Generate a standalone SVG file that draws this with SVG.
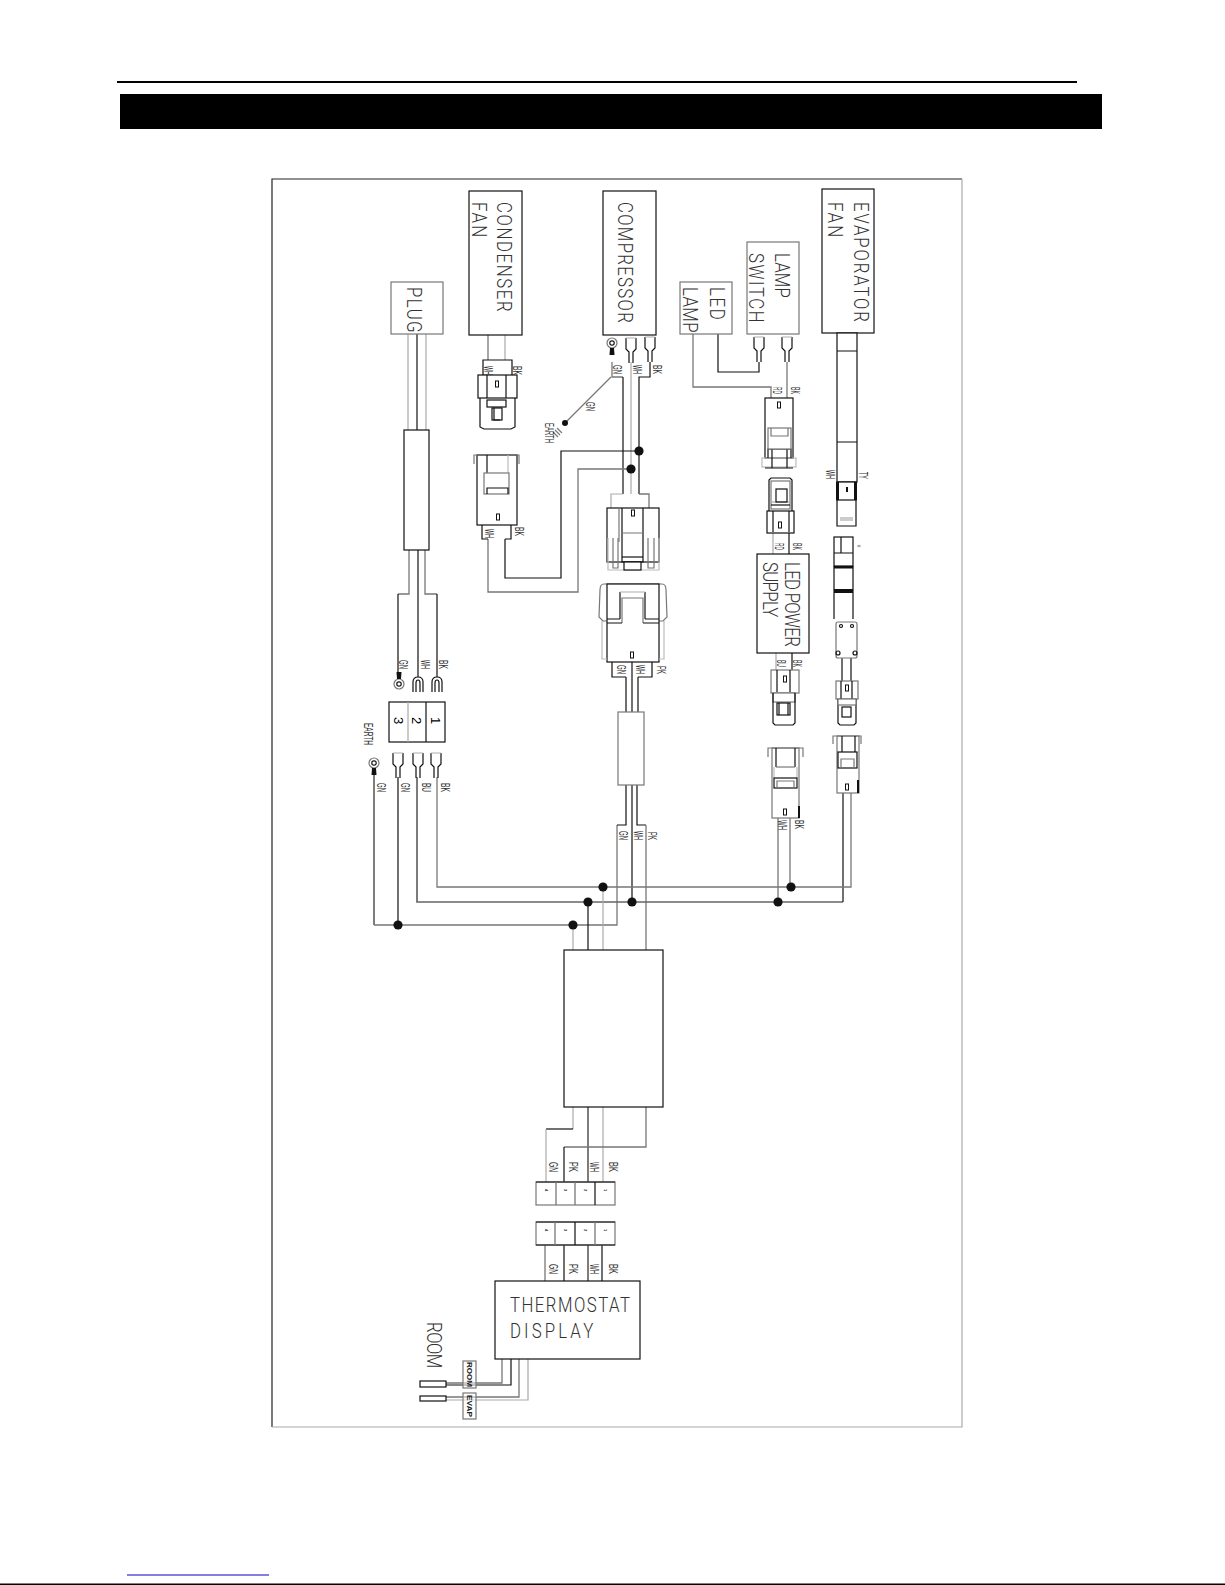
<svg xmlns="http://www.w3.org/2000/svg" width="1225" height="1585" viewBox="0 0 1225 1585">
<style>
text{font-family:"Liberation Sans",Arial,sans-serif;fill:#000}
.b{fill:#fff;stroke:#111;stroke-width:1.2}
.bg{fill:#fff;stroke:#777;stroke-width:1.2}
.o{fill:none;stroke:#111;stroke-width:1.2}
.og{fill:none;stroke:#777;stroke-width:1.2}
.ol{fill:none;stroke:#bbb;stroke-width:1.2}
.k{fill:#111;stroke:none}
.w{fill:none;stroke:#111;stroke-width:1.2}
.wg{fill:none;stroke:#777;stroke-width:1.3}
.wl{fill:none;stroke:#aaa;stroke-width:1.2}
.wt{fill:none;stroke:#666;stroke-width:1.7}
.t{font-family:"Roboto","Liberation Sans",sans-serif;font-weight:300;font-size:21px;fill:#333}
.s{font-size:12px;fill:#333}
.n{font-size:4px;font-weight:bold;fill:#222}
.tag{font-size:7px;font-weight:bold;fill:#222}
</style>
<defs>
<g id="spade"><path class="o" d="M-5 0V11L-2 14V25M5 0V11L2 14V25"/><path class="ol" d="M-5 0H5"/></g>
<g id="fork"><path class="o" d="M-5 15V5Q-5 0 0 0Q5 0 5 5V15M-2 15V6Q-2 3 0 3Q2 3 2 6V15"/><path class="w" d="M0 0V-5"/></g>
<g id="ring"><circle r="5" class="og"/><circle r="2.2" class="o"/><path class="k" d="M-2 5H2L2.5 12H-2.5Z"/></g>
<circle id="dot" r="4.6" class="k"/>
<rect id="tab" x="-1.5" y="-3" width="3" height="6" fill="#fff" stroke="#111" stroke-width="1"/>
</defs>
<rect width="1225" height="1585" fill="#fff"/>
<g id="page">
<rect x="117" y="81" width="960" height="2" fill="#000"/>
<rect x="120" y="94" width="982" height="35" fill="#000"/>
<path d="M272 1427V179H962" fill="none" stroke="#222" stroke-width="1.2"/>
<path d="M272 1427H962V179" fill="none" stroke="#aaa" stroke-width="1.2"/>
<rect x="127" y="1574.5" width="142" height="1" fill="#00c"/>
<rect x="0" y="1583.5" width="1225" height="1.5" fill="#000"/>
</g>
<g id="connectors">
<path class="wl" d="M408 334V430M426 334V430"/>
<path class="w" d="M417 334V430"/>
<path class="wg" d="M409 550V594H398"/><path class="wg" d="M425 550V594H437"/>
<path class="w" d="M398 594V675M437 594V672"/><path class="w" d="M418 550V672"/>
<path class="wg" d="M488 335V360"/><path class="wl" d="M505 335V360"/>
<path class="w" d="M483 375V360H512V375"/>
<path class="wg" d="M612 362V377H623"/><path class="w" d="M623 377V494"/>
<path class="wg" d="M611 377L565 423"/>
<path class="wl" d="M631 362V494"/>
<path class="w" d="M650 362V377H639V494"/>
<path class="wl" d="M611 508V494H623"/><path class="wg" d="M639 494H649V508"/>
<path class="w" d="M639 451H561V578H505V539"/>
<path class="wg" d="M631 469H578V592H488V539"/>
<path class="w" d="M718 334V372H759V362"/>
<path class="wg" d="M693 334V387H771V398"/>
<path class="wg" d="M787 362V398"/>
<path class="wl" d="M773 533V554"/><path class="w" d="M789 533V554"/>
<path class="wl" d="M776 653V670"/><path class="w" d="M792 653V670"/>
<path class="w" d="M842 658V681M851 658V681"/>
<path class="w" d="M626 677V712M638 677V712"/><path class="w" d="M632 662V712"/>
<path class="wt" d="M374 772V925"/><path class="wg" d="M374 925H617V825"/>
<path class="w" d="M617 825H626V785M646 825H637V785"/>
<path class="w" d="M632 785V902"/>
<path class="wg" d="M646 825V950"/>
<path class="w" d="M398 777V925"/>
<path class="wt" d="M417 777V902H843"/><path class="w" d="M843 902V793"/>
<path class="wg" d="M437 777V887H851V793"/>
<path class="wg" d="M778 818V902M790 818V887"/>
<path class="wl" d="M573 925V950"/><path class="w" d="M588 902V950"/><path class="wl" d="M603 887V950"/>
<path class="wl" d="M573 1107V1129"/><path class="w" d="M573 1129H546"/><path class="wl" d="M546 1129V1182"/>
<path class="wt" d="M588 1107V1182"/><path class="wl" d="M603 1107V1182"/>
<path class="wg" d="M646 1107V1147H564"/><path class="w" d="M564 1147V1182"/>
<path class="wg" d="M545 1245V1281"/><path class="w" d="M564 1245V1281"/><path class="wt" d="M588 1245V1281"/><path class="w" d="M602 1245V1281"/>
<path class="wg" d="M502 1359V1383H446"/><path class="w" d="M511 1359V1385H446"/>
<path class="wg" d="M519 1359V1397H446"/><path class="wl" d="M528 1359V1400H446"/>
<use href="#dot" x="639" y="451"/><use href="#dot" x="631" y="469"/>
<use href="#dot" x="603" y="887"/><use href="#dot" x="791" y="887"/>
<use href="#dot" x="588" y="902"/><use href="#dot" x="632" y="902"/><use href="#dot" x="778" y="902"/>
<use href="#dot" x="573" y="925"/><use href="#dot" x="398" y="925"/>
</g>
<g id="plug"><rect class="bg" x="391" y="282" width="52" height="52"/><text class="t" transform="translate(407,287) rotate(90) scale(.8,1)" textLength="57" lengthAdjust="spacing">PLUG</text></g>
<g id="plug-sheath"><rect class="b" x="404" y="430" width="25" height="120"/></g>
<g id="plug-terminals">
<use href="#ring" transform="translate(399,684) rotate(180)"/><use href="#fork" x="418" y="677"/><use href="#fork" x="437" y="677"/>
<text class="s" transform="translate(399,660) rotate(90)" textLength="9" lengthAdjust="spacingAndGlyphs">GN</text>
<text class="s" transform="translate(421,660) rotate(90)" textLength="9" lengthAdjust="spacingAndGlyphs">WH</text>
<text class="s" transform="translate(439,660) rotate(90)" textLength="9" lengthAdjust="spacingAndGlyphs">BK</text>
</g>
<g id="terminal-block">
<rect class="b" x="389" y="702" width="56" height="40"/>
<path class="wl" d="M408 702V742"/><path class="w" d="M426 702V742"/>
<text transform="translate(394,717) rotate(90)" font-size="13" fill="#333">3</text>
<text transform="translate(412,717) rotate(90)" font-size="13" fill="#333">2</text>
<text transform="translate(431,717) rotate(90)" font-size="13" fill="#333">1</text>
</g>
<g id="earth-terminals">
<text class="s" transform="translate(364,723) rotate(90)" textLength="22" lengthAdjust="spacingAndGlyphs">EARTH</text>
<use href="#ring" x="374" y="763"/>
<use href="#spade" x="398" y="753"/><use href="#spade" x="418" y="753"/><use href="#spade" x="436" y="753"/>
<text class="s" transform="translate(377,783) rotate(90)" textLength="9" lengthAdjust="spacingAndGlyphs">GN</text>
<text class="s" transform="translate(401,783) rotate(90)" textLength="9" lengthAdjust="spacingAndGlyphs">GN</text>
<text class="s" transform="translate(422,783) rotate(90)" textLength="9" lengthAdjust="spacingAndGlyphs">BU</text>
<text class="s" transform="translate(441,783) rotate(90)" textLength="9" lengthAdjust="spacingAndGlyphs">BK</text>
</g>
<g id="condenser-fan"><rect class="b" x="469" y="191" width="53" height="144"/>
<text class="t" transform="translate(497,202) rotate(90) scale(.8,1)" textLength="137" lengthAdjust="spacing">CONDENSER</text>
<text class="t" transform="translate(472,202) rotate(90) scale(.8,1)" textLength="44" lengthAdjust="spacing">FAN</text></g>
<g id="condenser-connector">
<rect class="b" x="478" y="375" width="39" height="23"/>
<path class="o" d="M480 398V427L484 429H511L515 427V398"/>
<path class="o" d="M487 375V398M506 375V398"/>
<rect class="b" x="487" y="400" width="19" height="7"/>
<rect class="b" x="492" y="408" width="10" height="12"/><path class="o" d="M494 408V420H500"/>
<use href="#tab" x="497" y="384"/>
<text class="s" transform="translate(484,366) rotate(90)" textLength="9" lengthAdjust="spacingAndGlyphs">WH</text>
<text class="s" transform="translate(513,366) rotate(90)" textLength="9" lengthAdjust="spacingAndGlyphs">BK</text>
</g>
<g id="compressor"><rect class="b" x="603" y="191" width="53" height="144"/>
<text class="t" transform="translate(618,202) rotate(90) scale(.8,1)" textLength="151" lengthAdjust="spacing">COMPRESSOR</text></g>
<g id="compressor-terminals">
<use href="#ring" x="612" y="343"/>
<use href="#spade" x="631" y="338"/><use href="#spade" x="650" y="337"/>
<circle cx="565" cy="423" r="3" class="k"/>
<path class="og" d="M557 428L562 433M555 430L560 435M553 432L558 437"/>
<text class="s" transform="translate(613,365) rotate(90)" textLength="9" lengthAdjust="spacingAndGlyphs">GN</text>
<text class="s" transform="translate(633,365) rotate(90)" textLength="9" lengthAdjust="spacingAndGlyphs">WH</text>
<text class="s" transform="translate(653,365) rotate(90)" textLength="9" lengthAdjust="spacingAndGlyphs">BK</text>
<text class="s" transform="translate(586,402) rotate(90)" textLength="9" lengthAdjust="spacingAndGlyphs">GN</text>
<text class="s" transform="translate(545,423) rotate(90)" textLength="20" lengthAdjust="spacingAndGlyphs">EARTH</text>
</g>
<g id="fan-connector-left">
<rect class="b" x="477" y="455" width="40" height="70"/>
<path class="og" d="M474 464V455H519V464"/><path class="o" d="M487 455V473"/><path class="ol" d="M508 455V473"/>
<rect class="bg" x="484" y="473" width="25" height="21"/><path class="o" d="M487 494V488H508V494"/>
<use href="#tab" x="498" y="517"/>
<path class="w" d="M482 525V539H488"/><path class="w" d="M511 525V539H505"/>
<text class="s" transform="translate(485,529) rotate(90)" textLength="9" lengthAdjust="spacingAndGlyphs">WH</text>
<text class="s" transform="translate(515,527) rotate(90)" textLength="9" lengthAdjust="spacingAndGlyphs">BK</text>
</g>
<g id="compressor-connector">
<rect class="b" x="607" y="508" width="52" height="54"/>
<path class="ol" d="M608 538V570H659V538"/>
<path class="og" d="M619 508V542"/><path class="o" d="M643 508V562H622V508"/>
<path class="og" d="M622 533H643M613 538V568H618V538M648 538V568H654V538"/>
<path class="o" d="M622 557H643"/>
<rect class="b" x="624" y="562" width="17" height="8"/>
<use href="#tab" x="633" y="513"/>
</g>
<g id="control-connector">
<path class="og" d="M599 617L600 590Q600 584 604 584H662Q666 584 666 590L667 617L663 621H603Z"/>
<rect class="b" x="607" y="584" width="52" height="78"/>
<path class="ol" d="M602 621V659H607M664 621V659H659"/>
<path class="o" d="M620 619V592M645 592V619"/><path class="ol" d="M620 592H645"/>
<path class="og" d="M622 623V598H643V623"/>
<path class="o" d="M607 619H620M607 623H622M645 619H659M643 623H659"/>
<use href="#tab" x="632" y="655"/>
<path class="o" d="M612 662V677H626M652 662V677H638"/>
<text class="s" transform="translate(617,665) rotate(90)" textLength="9" lengthAdjust="spacingAndGlyphs">GN</text>
<text class="s" transform="translate(636,665) rotate(90)" textLength="9" lengthAdjust="spacingAndGlyphs">WH</text>
<text class="s" transform="translate(657,666) rotate(90)" textLength="8" lengthAdjust="spacingAndGlyphs">PK</text>
</g>
<g id="control-sheath"><rect class="bg" x="618" y="712" width="26" height="73"/>
<text class="s" transform="translate(619,831) rotate(90)" textLength="9" lengthAdjust="spacingAndGlyphs">GN</text>
<text class="s" transform="translate(634,831) rotate(90)" textLength="9" lengthAdjust="spacingAndGlyphs">WH</text>
<text class="s" transform="translate(648,832) rotate(90)" textLength="8" lengthAdjust="spacingAndGlyphs">PK</text>
</g>
<g id="lamp-switch"><rect class="bg" x="747" y="242" width="52" height="92"/>
<text class="t" transform="translate(775,253) rotate(90) scale(.8,1)" textLength="56" lengthAdjust="spacing">LAMP</text>
<text class="t" transform="translate(749,253) rotate(90) scale(.8,1)" textLength="87" lengthAdjust="spacing">SWITCH</text>
<use href="#spade" x="759" y="337"/><use href="#spade" x="787" y="337"/></g>
<g id="led-lamp"><rect class="bg" x="680" y="282" width="52" height="52"/>
<text class="t" transform="translate(710,287) rotate(90) scale(.8,1)" textLength="41" lengthAdjust="spacing">LED</text>
<text class="t" transform="translate(683,287) rotate(90) scale(.8,1)" textLength="57" lengthAdjust="spacing">LAMP</text></g>
<g id="lamp-connector">
<rect class="b" x="765" y="398" width="28" height="60"/>
<rect class="ol" x="762" y="458" width="34" height="9"/>
<path class="o" d="M768 458V449H791V458M772 449V468M787 449V468M765 468H793"/>
<rect class="bg" x="768" y="428" width="23" height="21"/><path class="og" d="M771 428V436H788V428"/>
<use href="#tab" x="779" y="405"/>
<text class="s" transform="translate(773,387) rotate(90)" textLength="7" lengthAdjust="spacingAndGlyphs">RD</text>
<text class="s" transform="translate(791,387) rotate(90)" textLength="7" lengthAdjust="spacingAndGlyphs">BK</text>
</g>
<g id="led-connector-top">
<path class="o" d="M769 511V480L771 478H790L792 480V511"/>
<rect class="bg" x="771" y="481" width="19" height="28"/>
<path class="wl" d="M771 502H790"/><path class="w" d="M771 505H790"/>
<rect class="o" x="776" y="489" width="11" height="13"/>
<rect class="b" x="767" y="511" width="27" height="22"/><path class="o" d="M773 511V532M789 511V532"/>
<use href="#tab" x="780" y="525"/>
</g>
<g id="led-power-supply"><rect class="b" x="757" y="554" width="52" height="99"/>
<text class="t" transform="translate(785,562) rotate(90) scale(.8,1)" textLength="106" lengthAdjust="spacing">LED POWER</text>
<text class="t" transform="translate(763,562) rotate(90) scale(.8,1)" textLength="69" lengthAdjust="spacing">SUPPLY</text>
<text class="s" transform="translate(775,543) rotate(90)" textLength="7" lengthAdjust="spacingAndGlyphs">RD</text>
<text class="s" transform="translate(793,543) rotate(90)" textLength="7" lengthAdjust="spacingAndGlyphs">BK</text>
<text class="s" transform="translate(777,660) rotate(90)" textLength="7" lengthAdjust="spacingAndGlyphs">BU</text>
<text class="s" transform="translate(793,660) rotate(90)" textLength="7" lengthAdjust="spacingAndGlyphs">BK</text>
</g>
<g id="led-connector-bottom">
<rect class="bg" x="771" y="670" width="28" height="23"/><path class="o" d="M777 670V692M790 670V692"/>
<rect class="bg" x="773" y="693" width="22" height="9"/>
<path class="o" d="M773 693V723L775 725H793L795 723V693"/>
<rect class="o" x="777" y="703" width="13" height="12"/><path class="o" d="M779 703V715M788 703V715"/>
<use href="#tab" x="785" y="679"/>
</g>
<g id="socket-connector">
<rect class="bg" x="772" y="748" width="27" height="70"/>
<path class="og" d="M768 757V748H803V757"/><path class="o" d="M776 748V767M795 748V767"/>
<path class="og" d="M776 767H795"/>
<path class="ol" d="M774 767V778M797 767V778"/>
<rect class="b" x="774" y="778" width="23" height="10"/><path class="og" d="M777 788V781H794V788"/>
<use href="#tab" x="785" y="812"/>
<path class="k" d="M798 806H800V818H798Z"/>
<text class="s" transform="translate(778,820) rotate(90)" textLength="10" lengthAdjust="spacingAndGlyphs">WH</text>
<text class="s" transform="translate(795,820) rotate(90)" textLength="9" lengthAdjust="spacingAndGlyphs">BK</text>
</g>
<g id="evaporator-fan"><rect class="b" x="822" y="189" width="52" height="144"/>
<text class="t" transform="translate(854,202) rotate(90) scale(.8,1)" textLength="150" lengthAdjust="spacing">EVAPORATOR</text>
<text class="t" transform="translate(828,202) rotate(90) scale(.8,1)" textLength="44" lengthAdjust="spacing">FAN</text></g>
<g id="evaporator-sheath">
<rect class="b" x="837" y="333" width="20" height="149"/><path class="w" d="M837 351H857M837 442H857"/>
<rect x="837" y="482" width="19" height="18" fill="#fff" stroke="#111" stroke-width="1.2"/>
<path class="k" d="M836 482H839V500H836ZM854 482H857V500H854ZM846 487H848V492H846Z"/>
<path class="o" d="M837 500V526H856V500"/><path class="wl" d="M840 518H853"/><path class="wl" d="M840 520H853"/>
<text class="s" transform="translate(826,470) rotate(90)" textLength="9" lengthAdjust="spacingAndGlyphs">WH</text>
<text class="s" transform="translate(859,472) rotate(90)" textLength="7" lengthAdjust="spacingAndGlyphs">TY</text>
</g>
<g id="evaporator-plug">
<rect class="o" x="834" y="537" width="19" height="29"/>
<path class="o" d="M841 537V553M834 553H853M834 566V619M853 566V619"/>
<rect class="k" x="834" y="566" width="19" height="2.5"/>
<rect class="k" x="834" y="589" width="19" height="4"/>
<rect class="wl" x="858" y="545.5" width="2" height="1"/>
</g>
<g id="evaporator-plate">
<rect class="bg" x="836" y="622" width="21" height="36" rx="2"/>
<circle class="o" cx="841" cy="626" r="1.5"/><circle class="o" cx="852" cy="626" r="1.5"/>
<circle class="o" cx="838" cy="653" r="2"/><circle class="o" cx="855" cy="653" r="2"/>
</g>
<g id="evaporator-connector-a">
<rect class="bg" x="836" y="681" width="22" height="18"/><path class="o" d="M841 681V699M852 681V699"/>
<use href="#tab" x="847" y="688"/>
<path class="o" d="M838 699V723L840 725H854L856 723V699"/>
<rect class="bg" x="838" y="699" width="18" height="6"/>
<rect class="o" x="842" y="707" width="9" height="10"/>
</g>
<g id="evaporator-connector-b">
<rect class="bg" x="837" y="736" width="22" height="57"/>
<path class="og" d="M833 744V736H861V744"/><path class="o" d="M842 736V752M855 736V752"/>
<rect class="b" x="838" y="752" width="19" height="16"/><path class="og" d="M841 768V759H854V768"/>
<use href="#tab" x="847" y="787"/>
<path class="k" d="M857 780H859V793H857Z"/>
</g>
<g id="controller"><rect class="b" x="564" y="950" width="99" height="157"/></g>
<g id="terminal-upper">
<rect class="bg" x="536" y="1182" width="79" height="23"/>
<path class="w" d="M536 1182H615M595 1182V1205"/><path class="wg" d="M556 1182V1205M575 1182V1205"/>
<text class="n" transform="translate(545,1189) rotate(90)">4</text><text class="n" transform="translate(564,1189) rotate(90)">3</text><text class="n" transform="translate(584,1189) rotate(90)">2</text><text class="n" transform="translate(604,1189) rotate(90)">1</text>
<text class="s" transform="translate(549,1162) rotate(90)" textLength="10" lengthAdjust="spacingAndGlyphs">GN</text>
<text class="s" transform="translate(569,1162) rotate(90)" textLength="10" lengthAdjust="spacingAndGlyphs">PK</text>
<text class="s" transform="translate(590,1162) rotate(90)" textLength="10" lengthAdjust="spacingAndGlyphs">WH</text>
<text class="s" transform="translate(609,1162) rotate(90)" textLength="10" lengthAdjust="spacingAndGlyphs">BK</text>
</g>
<g id="terminal-lower">
<rect class="bg" x="536" y="1222" width="79" height="23"/>
<path class="w" d="M536 1222H615M536 1245H615M575 1222V1245"/><path class="wg" d="M555 1222V1245M595 1222V1245"/>
<text class="n" transform="translate(545,1229) rotate(90)">4</text><text class="n" transform="translate(564,1229) rotate(90)">3</text><text class="n" transform="translate(584,1229) rotate(90)">2</text><text class="n" transform="translate(604,1229) rotate(90)">1</text>
<text class="s" transform="translate(549,1264) rotate(90)" textLength="10" lengthAdjust="spacingAndGlyphs">GN</text>
<text class="s" transform="translate(569,1264) rotate(90)" textLength="10" lengthAdjust="spacingAndGlyphs">PK</text>
<text class="s" transform="translate(590,1264) rotate(90)" textLength="10" lengthAdjust="spacingAndGlyphs">WH</text>
<text class="s" transform="translate(609,1264) rotate(90)" textLength="10" lengthAdjust="spacingAndGlyphs">BK</text>
</g>
<g id="thermostat-display"><rect class="b" x="495" y="1281" width="145" height="78"/>
<text class="t" transform="translate(510,1312) scale(.8,1)" textLength="150" lengthAdjust="spacing">THERMOSTAT</text>
<text class="t" transform="translate(510,1338) scale(.8,1)" textLength="104" lengthAdjust="spacing">DISPLAY</text></g>
<g id="room-sensor">
<text class="t" transform="translate(427,1322) rotate(90) scale(.8,1)" textLength="58" lengthAdjust="spacing">ROOM</text>
<rect class="b" x="420" y="1381" width="26" height="6"/>
<rect class="bg" x="463" y="1361" width="13" height="27" fill-opacity="0.5"/>
<text class="tag" transform="translate(467,1362) rotate(90)" textLength="25" lengthAdjust="spacingAndGlyphs">ROOM</text>
</g>
<g id="evap-sensor">
<rect class="b" x="420" y="1396" width="26" height="5"/>
<rect class="bg" x="463" y="1393" width="13" height="26" fill-opacity="0.5"/>
<text class="tag" transform="translate(467,1395) rotate(90)" textLength="22" lengthAdjust="spacingAndGlyphs">EVAP</text>
</g>
</svg>
